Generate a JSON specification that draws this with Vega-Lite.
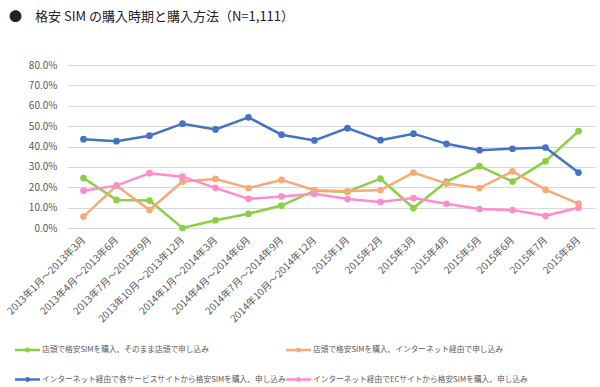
{
  "$schema": "https://vega.github.io/schema/vega-lite/v6.json",
  "width": 528,
  "height": 163,
  "autosize": {"type": "none"},
  "padding": {"left": 67, "top": 65, "right": 5, "bottom": 159},
  "background": "white",
  "config": {
    "font": "Noto Sans CJK JP",
    "view": {"stroke": null}
  },
  "title": {
    "text": "●　格安 SIM の購入時期と購入方法（N=1,111）",
    "anchor": "start",
    "frame": "group",
    "dx": -58,
    "offset": 36,
    "fontSize": 13,
    "fontWeight": "normal",
    "color": "#222222",
    "font": "Noto Sans CJK JP"
  },
  "data": {
    "values": [
      {"period": "2013年1月～2013年3月", "method": "店頭で格安SIMを購入、そのまま店頭で申し込み", "value": 24.5},
      {"period": "2013年4月～2013年6月", "method": "店頭で格安SIMを購入、そのまま店頭で申し込み", "value": 13.8},
      {"period": "2013年7月～2013年9月", "method": "店頭で格安SIMを購入、そのまま店頭で申し込み", "value": 13.5},
      {"period": "2013年10月～2013年12月", "method": "店頭で格安SIMを購入、そのまま店頭で申し込み", "value": 0},
      {"period": "2014年1月～2014年3月", "method": "店頭で格安SIMを購入、そのまま店頭で申し込み", "value": 3.8},
      {"period": "2014年4月～2014年6月", "method": "店頭で格安SIMを購入、そのまま店頭で申し込み", "value": 7.0},
      {"period": "2014年7月～2014年9月", "method": "店頭で格安SIMを購入、そのまま店頭で申し込み", "value": 11.0},
      {"period": "2014年10月～2014年12月", "method": "店頭で格安SIMを購入、そのまま店頭で申し込み", "value": 18.3},
      {"period": "2015年1月", "method": "店頭で格安SIMを購入、そのまま店頭で申し込み", "value": 17.8},
      {"period": "2015年2月", "method": "店頭で格安SIMを購入、そのまま店頭で申し込み", "value": 24.2},
      {"period": "2015年3月", "method": "店頭で格安SIMを購入、そのまま店頭で申し込み", "value": 9.8},
      {"period": "2015年4月", "method": "店頭で格安SIMを購入、そのまま店頭で申し込み", "value": 22.8},
      {"period": "2015年5月", "method": "店頭で格安SIMを購入、そのまま店頭で申し込み", "value": 30.4},
      {"period": "2015年6月", "method": "店頭で格安SIMを購入、そのまま店頭で申し込み", "value": 22.8},
      {"period": "2015年7月", "method": "店頭で格安SIMを購入、そのまま店頭で申し込み", "value": 32.8},
      {"period": "2015年8月", "method": "店頭で格安SIMを購入、そのまま店頭で申し込み", "value": 47.5},

      {"period": "2013年1月～2013年3月", "method": "店頭で格安SIMを購入、インターネット経由で申し込み", "value": 5.6},
      {"period": "2013年4月～2013年6月", "method": "店頭で格安SIMを購入、インターネット経由で申し込み", "value": 20.8},
      {"period": "2013年7月～2013年9月", "method": "店頭で格安SIMを購入、インターネット経由で申し込み", "value": 8.8},
      {"period": "2013年10月～2013年12月", "method": "店頭で格安SIMを購入、インターネット経由で申し込み", "value": 22.8},
      {"period": "2014年1月～2014年3月", "method": "店頭で格安SIMを購入、インターネット経由で申し込み", "value": 24.1},
      {"period": "2014年4月～2014年6月", "method": "店頭で格安SIMを購入、インターネット経由で申し込み", "value": 19.6},
      {"period": "2014年7月～2014年9月", "method": "店頭で格安SIMを購入、インターネット経由で申し込み", "value": 23.6},
      {"period": "2014年10月～2014年12月", "method": "店頭で格安SIMを購入、インターネット経由で申し込み", "value": 18.5},
      {"period": "2015年1月", "method": "店頭で格安SIMを購入、インターネット経由で申し込み", "value": 18.0},
      {"period": "2015年2月", "method": "店頭で格安SIMを購入、インターネット経由で申し込み", "value": 18.6},
      {"period": "2015年3月", "method": "店頭で格安SIMを購入、インターネット経由で申し込み", "value": 27.2},
      {"period": "2015年4月", "method": "店頭で格安SIMを購入、インターネット経由で申し込み", "value": 21.8},
      {"period": "2015年5月", "method": "店頭で格安SIMを購入、インターネット経由で申し込み", "value": 19.6},
      {"period": "2015年6月", "method": "店頭で格安SIMを購入、インターネット経由で申し込み", "value": 27.8},
      {"period": "2015年7月", "method": "店頭で格安SIMを購入、インターネット経由で申し込み", "value": 18.8},
      {"period": "2015年8月", "method": "店頭で格安SIMを購入、インターネット経由で申し込み", "value": 12.0},

      {"period": "2013年1月～2013年3月", "method": "インターネット経由で各サービスサイトから格安SIMを購入、申し込み", "value": 43.6},
      {"period": "2013年4月～2013年6月", "method": "インターネット経由で各サービスサイトから格安SIMを購入、申し込み", "value": 42.6},
      {"period": "2013年7月～2013年9月", "method": "インターネット経由で各サービスサイトから格安SIMを購入、申し込み", "value": 45.3},
      {"period": "2013年10月～2013年12月", "method": "インターネット経由で各サービスサイトから格安SIMを購入、申し込み", "value": 51.2},
      {"period": "2014年1月～2014年3月", "method": "インターネット経由で各サービスサイトから格安SIMを購入、申し込み", "value": 48.4},
      {"period": "2014年4月～2014年6月", "method": "インターネット経由で各サービスサイトから格安SIMを購入、申し込み", "value": 54.3},
      {"period": "2014年7月～2014年9月", "method": "インターネット経由で各サービスサイトから格安SIMを購入、申し込み", "value": 45.8},
      {"period": "2014年10月～2014年12月", "method": "インターネット経由で各サービスサイトから格安SIMを購入、申し込み", "value": 43.0},
      {"period": "2015年1月", "method": "インターネット経由で各サービスサイトから格安SIMを購入、申し込み", "value": 49.0},
      {"period": "2015年2月", "method": "インターネット経由で各サービスサイトから格安SIMを購入、申し込み", "value": 43.1},
      {"period": "2015年3月", "method": "インターネット経由で各サービスサイトから格安SIMを購入、申し込み", "value": 46.3},
      {"period": "2015年4月", "method": "インターネット経由で各サービスサイトから格安SIMを購入、申し込み", "value": 41.3},
      {"period": "2015年5月", "method": "インターネット経由で各サービスサイトから格安SIMを購入、申し込み", "value": 38.2},
      {"period": "2015年6月", "method": "インターネット経由で各サービスサイトから格安SIMを購入、申し込み", "value": 38.9},
      {"period": "2015年7月", "method": "インターネット経由で各サービスサイトから格安SIMを購入、申し込み", "value": 39.5},
      {"period": "2015年8月", "method": "インターネット経由で各サービスサイトから格安SIMを購入、申し込み", "value": 27.2},

      {"period": "2013年1月～2013年3月", "method": "インターネット経由でECサイトから格安SIMを購入、申し込み", "value": 18.3},
      {"period": "2013年4月～2013年6月", "method": "インターネット経由でECサイトから格安SIMを購入、申し込み", "value": 20.8},
      {"period": "2013年7月～2013年9月", "method": "インターネット経由でECサイトから格安SIMを購入、申し込み", "value": 26.9},
      {"period": "2013年10月～2013年12月", "method": "インターネット経由でECサイトから格安SIMを購入、申し込み", "value": 25.2},
      {"period": "2014年1月～2014年3月", "method": "インターネット経由でECサイトから格安SIMを購入、申し込み", "value": 19.7},
      {"period": "2014年4月～2014年6月", "method": "インターネット経由でECサイトから格安SIMを購入、申し込み", "value": 14.3},
      {"period": "2014年7月～2014年9月", "method": "インターネット経由でECサイトから格安SIMを購入、申し込み", "value": 15.5},
      {"period": "2014年10月～2014年12月", "method": "インターネット経由でECサイトから格安SIMを購入、申し込み", "value": 16.8},
      {"period": "2015年1月", "method": "インターネット経由でECサイトから格安SIMを購入、申し込み", "value": 14.2},
      {"period": "2015年2月", "method": "インターネット経由でECサイトから格安SIMを購入、申し込み", "value": 12.8},
      {"period": "2015年3月", "method": "インターネット経由でECサイトから格安SIMを購入、申し込み", "value": 14.7},
      {"period": "2015年4月", "method": "インターネット経由でECサイトから格安SIMを購入、申し込み", "value": 11.9},
      {"period": "2015年5月", "method": "インターネット経由でECサイトから格安SIMを購入、申し込み", "value": 9.3},
      {"period": "2015年6月", "method": "インターネット経由でECサイトから格安SIMを購入、申し込み", "value": 8.8},
      {"period": "2015年7月", "method": "インターネット経由でECサイトから格安SIMを購入、申し込み", "value": 6.0},
      {"period": "2015年8月", "method": "インターネット経由でECサイトから格安SIMを購入、申し込み", "value": 9.9}
    ]
  },
  "encoding": {
    "x": {
      "field": "period",
      "type": "ordinal",
      "sort": null,
      "scale": {"type": "point", "padding": 0.5},
      "axis": {
        "title": null,
        "domain": false,
        "ticks": false,
        "grid": false,
        "labelAngle": -45,
        "labelAlign": "right",
        "labelBaseline": "middle",
        "labelPadding": 10,
        "labelFontSize": 10,
        "labelColor": "#595959",
        "labelLimit": 250
      }
    },
    "y": {
      "field": "value",
      "type": "quantitative",
      "scale": {"domain": [0, 80], "nice": false},
      "axis": {
        "title": null,
        "values": [0, 10, 20, 30, 40, 50, 60, 70, 80],
        "labelExpr": "format(datum.value, '.1f') + '%'",
        "domain": false,
        "ticks": false,
        "labelPadding": 10,
        "labelFontSize": 10,
        "labelColor": "#595959",
        "gridColor": "#d9d9d9",
        "gridWidth": 1
      }
    },
    "color": {
      "field": "method",
      "type": "nominal",
      "sort": null,
      "scale": {
        "domain": [
          "店頭で格安SIMを購入、そのまま店頭で申し込み",
          "店頭で格安SIMを購入、インターネット経由で申し込み",
          "インターネット経由で各サービスサイトから格安SIMを購入、申し込み",
          "インターネット経由でECサイトから格安SIMを購入、申し込み"
        ],
        "range": ["#8ccf45", "#f5aa78", "#4472c4", "#ff8ccc"]
      },
      "legend": {
        "title": null,
        "orient": "none",
        "legendX": -52,
        "legendY": 272,
        "direction": "horizontal",
        "columns": 2,
        "columnPadding": 0,
        "rowPadding": 13,
        "labelFontSize": 7.7,
        "labelColor": "#595959",
        "labelLimit": 300,
        "labelOffset": 2,
        "symbolType": "M-1,-0.1H1V0.1H-1Z M0.2,0A0.2,0.2 0 1 1 -0.2,0A0.2,0.2 0 1 1 0.2,0Z",
        "symbolSize": 625,
        "symbolStrokeWidth": 0,
        "encode": {
          "symbols": {"update": {"fill": {"scale": "color", "field": "value"}, "strokeWidth": {"value": 0}}}
        }
      }
    }
  },
  "layer": [
    {"mark": {"type": "line", "strokeWidth": 2.5}},
    {"mark": {"type": "point", "filled": true, "size": 45, "opacity": 1}}
  ]
}
